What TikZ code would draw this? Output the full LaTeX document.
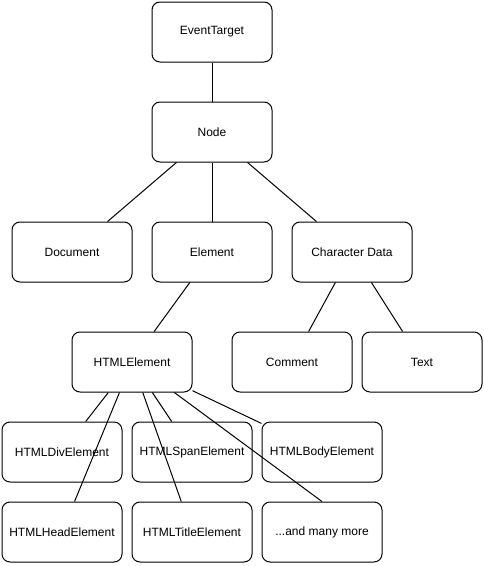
\documentclass[tikz,border=0pt]{standalone}
\usepackage{fontspec}
\setmainfont{Liberation Sans}
\usetikzlibrary{calc}
\begin{document}
\begin{tikzpicture}[x=1pt,y=-1pt,
  box/.style={draw=black, fill=white, line width=1pt, rounded corners=8pt,
    minimum width=120pt, minimum height=60pt, inner sep=0pt,
    font=\fontsize{12}{14}\selectfont, anchor=north west},
  link/.style={draw=black, line width=1pt}]
\useasboundingbox (0,0) rectangle (483,566);
\node[box] (et) at (151.5,1.5) {EventTarget};
\node[box] (node) at (151.5,101.5) {Node};
\node[box] (doc) at (11.5,221.5) {Document};
\node[box] (elem) at (151.5,221.5) {Element};
\node[box] (cdata) at (291.5,221.5) {Character Data};
\node[box] (html) at (71.5,331.5) {HTMLElement};
\node[box] (comment) at (231.5,331.5) {Comment};
\node[box] (text) at (361.5,331.5) {Text};
\node[box] (div) at (1.5,421.5) {HTMLDivElement};
\node[box] (span) at (131.5,421.5) {HTMLSpanElement};
\node[box] (body) at (261.5,421.5) {HTMLBodyElement};
\node[box] (head) at (1.5,501.5) {HTMLHeadElement};
\node[box] (title) at (131.5,501.5) {HTMLTitleElement};
\node[box] (many) at (261.5,501.5) {...and many more};
\coordinate (htmlexit) at ($(html.south west)!0.85!(html.south east)$);
\draw[link] (et) -- (node);
\draw[link] (node) -- (doc);
\draw[link] (node) -- (elem);
\draw[link] (node) -- (cdata);
\draw[link] (elem) -- (html);
\draw[link] (cdata) -- (comment);
\draw[link] (cdata) -- (text);
\draw[link] (html) -- (div);
\draw[link] (html) -- (span);
\draw[link] (html) -- (body);
\draw[link] (html) -- (head);
\draw[link] (html) -- (title);
\draw[link] (htmlexit) -- (many.north);
\end{tikzpicture}
\end{document}
